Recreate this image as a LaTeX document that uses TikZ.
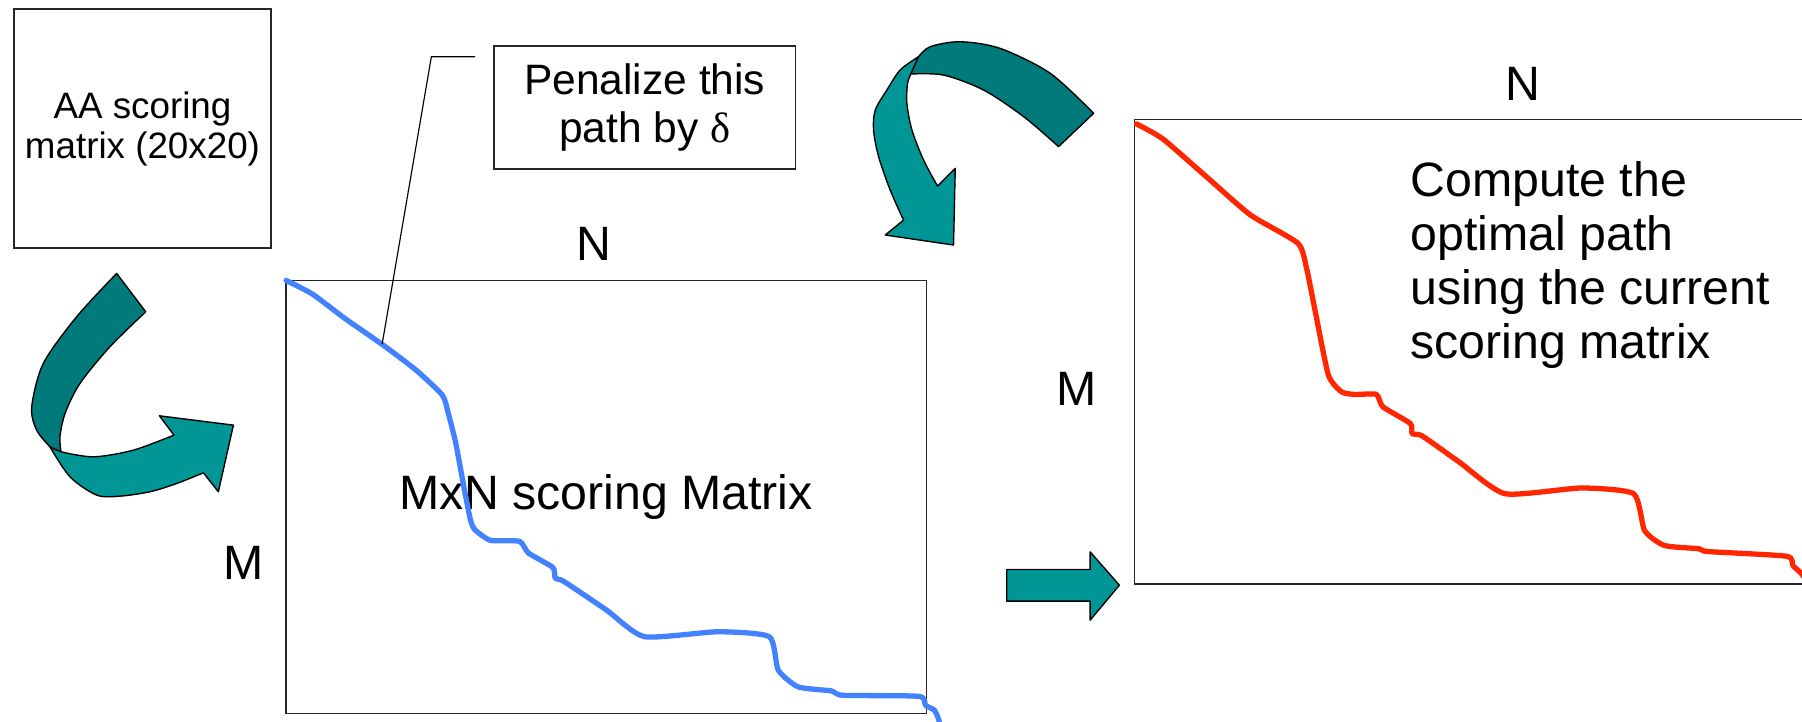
\documentclass[tikz,border=0pt]{standalone}
\usepackage{fontspec}
\setmainfont{Liberation Sans}
\newfontfamily\symfont{Liberation Serif}
\definecolor{tealdark}{RGB}{0,122,122}
\definecolor{teallight}{RGB}{0,150,150}
\definecolor{pathblue}{RGB}{66,130,255}
\definecolor{pathred}{RGB}{255,38,0}
\begin{document}
\begin{tikzpicture}
  [x=0.5pt,y=-0.5pt,
   box/.style={draw=black!85,line width=0.65pt,inner sep=0pt,align=center},
   big/.style={font=\fontsize{21}{23.5}\selectfont},
   band/.style={draw=black,line width=0.6pt,line join=round},
   route/.style={line width=2.3pt,line join=round,line cap=round}]
\useasboundingbox (0,0) rectangle (1568,628);
\clip (0,0) rectangle (1568,628);

\node (aa)[box,minimum width=112pt,minimum height=104pt,font=\fontsize{16}{17.5}\selectfont] at (124,112) {AA scoring\\matrix (20x20)};
\node (pen)[box,minimum width=131pt,minimum height=53.5pt,font=\fontsize{18.5}{21}\selectfont] at (561,93.5) {Penalize this\\path by {\symfont δ}};
\node (mat)[box,big,minimum width=278.5pt,minimum height=188.5pt] at (527.5,432.5) {MxN scoring Matrix};
\node (opt)[box,minimum width=306.5pt,minimum height=202pt] at (1293.5,306) {};
\node (txt)[big,align=left,anchor=north west,inner sep=0pt] at (1227,140) {Compute the\\optimal path\\using the current\\scoring matrix};

\node (nmat)[big] at (517,212) {N};
\node (mmat)[big] at (212,490) {M};
\node (nopt)[big] at (1325,73) {N};
\node (mopt)[big] at (937,338) {M};

% paths through the matrices
\draw[route,pathblue] plot[smooth,tension=0.35] coordinates {(249,244) (272,256) (300,277) (333,300) (362,322) (384.9,343.8) (389.9,359) (396.5,385.2) (403.5,423) (409.3,452.1) (413.2,460.9) (426.8,470.2) (452,471) (459.8,481.2) (481.1,493.8) (483.1,503.1) (490.8,506) (527.7,530.8) (560.7,554) (624.8,549.7) (669.4,554) (677.2,583.1) (694.6,597.7) (723.8,601.2) (733.5,605) (799.5,605.9) (805.3,613.7) (813.1,618) (817,626.8) (819,640)};
\draw[route,pathred] plot[smooth,tension=0.35] coordinates {(988.9,107.8) (1012,121) (1050,154) (1088,187) (1129.3,211.6) (1136.9,233.4) (1144.5,271.2) (1155.9,326.4) (1167.3,340.9) (1178.7,343.2) (1197.6,343.2) (1203.3,354) (1227.2,368.5) (1228.7,377.3) (1237.5,379.3) (1269.7,402) (1309.6,429.6) (1376,424.6) (1421.5,429.6) (1431,461.6) (1448.1,474.6) (1478.5,477.5) (1486,479.9) (1554.4,484) (1560,492) (1567.6,499.3) (1575,510)};

\coordinate (hit) at (332.5,299.5);
\draw[line width=0.5pt] ([shift={(-16,10)}]pen.north west) -- ++(-38,0) -- (hit);

% curved arrows
\filldraw[band,fill=teallight] plot[smooth] coordinates {(53.1,393.1) (81.2,397.5) (116,391.7) (151.4,378.6)} -- (138.7,361.8) -- (203.1,369.9) -- (190,427.9) -- plot[smooth] coordinates {(177,411.4) (153.8,420.7) (130.5,427.9) (104.4,431.7) (84.1,430.8) (60.9,414.9) (43.5,388.8)} -- cycle;
\filldraw[band,fill=tealdark] plot[smooth] coordinates {(101.5,237.9) (66.7,275.6) (37.7,316.2) (27.6,354) (31.9,374.3) (43.5,388.8)} -- plot[smooth] coordinates {(53.1,393.1) (52.2,380) (56.6,359.8) (69.6,333.6) (95.7,301.7) (126.8,271.3)} -- cycle;

\filldraw[band,fill=teallight] plot[smooth] coordinates {(799.3,49.3) (783.3,60.9) (771.7,78.3) (761.6,95.7) (760.1,113.1) (764.5,136.3) (774.6,165.4) (786.2,191.5)} -- (770.3,204.5) -- (829.7,213.2) -- (831.2,146.5) -- plot[smooth] coordinates {(815.8,161.9) (803.6,139.2) (793.5,113.1) (789.1,89.9) (789.7,72.5) (792.6,64.4)} -- cycle;
\filldraw[band,fill=tealdark] plot[smooth] coordinates {(792.6,64.4) (821,65.3) (855.8,78.3) (890.7,101.5) (921.1,127.6)} -- plot[smooth] coordinates {(951.6,98.6) (913.9,63.8) (870.3,42.1) (835.5,36.3) (809.4,40.6) (799.3,49.3)} -- cycle;

\filldraw[band,fill=teallight] (876,495.5) -- (948.6,495.5) -- (948.6,480.2) -- (974,509.2) -- (948.6,539.6) -- (948.6,523.1) -- (876,523.1) -- cycle;
\end{tikzpicture}
\end{document}
